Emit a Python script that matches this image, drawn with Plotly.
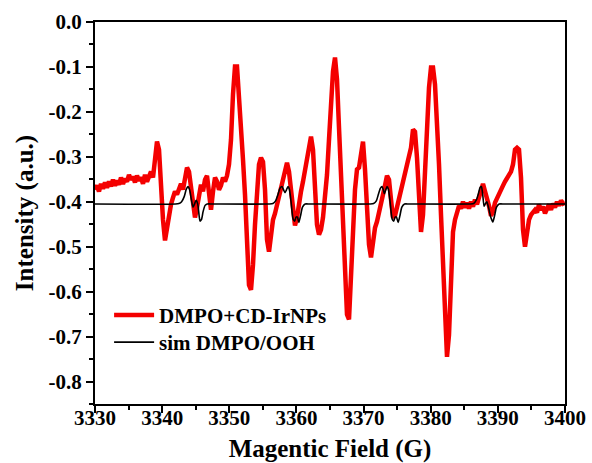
import numpy as np
import plotly.graph_objects as go

# Experimental EPR spectrum, sampled on a uniform field grid 3330-3400 G
n_points = 236
field = np.linspace(3330, 3400, n_points)
intensity_exp = [
    -0.373, -0.364, -0.377, -0.360, -0.371, -0.357, -0.369, -0.355, -0.366, -0.351,
    -0.364, -0.353, -0.362, -0.346, -0.360, -0.349, -0.355, -0.340, -0.351, -0.344,
    -0.357, -0.342, -0.353, -0.346, -0.360, -0.340, -0.355, -0.344, -0.333, -0.346,
    -0.306, -0.266, -0.284, -0.373, -0.440, -0.486, -0.458, -0.422, -0.406, -0.391,
    -0.377, -0.384, -0.369, -0.360, -0.373, -0.346, -0.324, -0.333, -0.373, -0.406,
    -0.435, -0.413, -0.386, -0.362, -0.377, -0.351, -0.342, -0.391, -0.418, -0.377,
    -0.346, -0.355, -0.373, -0.364, -0.346, -0.355, -0.342, -0.317, -0.262, -0.161,
    -0.099, -0.099, -0.161, -0.235, -0.306, -0.384, -0.473, -0.585, -0.596, -0.540,
    -0.451, -0.362, -0.317, -0.302, -0.311, -0.373, -0.484, -0.511, -0.473, -0.440,
    -0.426, -0.406, -0.384, -0.364, -0.351, -0.328, -0.313, -0.333, -0.373, -0.413,
    -0.453, -0.435, -0.402, -0.377, -0.355, -0.328, -0.306, -0.273, -0.255, -0.284,
    -0.362, -0.451, -0.473, -0.462, -0.435, -0.395, -0.340, -0.262, -0.184, -0.110,
    -0.079, -0.128, -0.235, -0.340, -0.440, -0.562, -0.651, -0.662, -0.562, -0.473,
    -0.373, -0.328, -0.324, -0.295, -0.266, -0.328, -0.418, -0.495, -0.524, -0.480,
    -0.458, -0.444, -0.426, -0.404, -0.386, -0.364, -0.342, -0.351, -0.395, -0.435,
    -0.431, -0.413, -0.391, -0.373, -0.355, -0.342, -0.324, -0.302, -0.280, -0.239,
    -0.244, -0.302, -0.395, -0.467, -0.429, -0.328, -0.228, -0.146, -0.101, -0.101,
    -0.139, -0.213, -0.317, -0.429, -0.551, -0.674, -0.745, -0.696, -0.551, -0.467,
    -0.440, -0.426, -0.409, -0.415, -0.400, -0.413, -0.402, -0.415, -0.400, -0.411,
    -0.395, -0.406, -0.391, -0.373, -0.360, -0.377, -0.391, -0.409, -0.431, -0.422,
    -0.402, -0.391, -0.384, -0.373, -0.364, -0.355, -0.346, -0.342, -0.333, -0.317,
    -0.284, -0.280, -0.284, -0.346, -0.462, -0.500, -0.467, -0.440, -0.429, -0.422,
    -0.418, -0.424, -0.406, -0.418, -0.411, -0.426, -0.413, -0.406, -0.418, -0.404,
    -0.413, -0.400, -0.409, -0.397, -0.404, -0.402,
]

# Simulated DMPO/OOH spectrum (flat baseline with four hyperfine groups)
field_sim = [
    3330.0, 3342.0,
    3342.5, 3342.9, 3343.3, 3343.6, 3343.85, 3344.1, 3344.35, 3344.6, 3344.85, 3345.05,
    3345.3, 3345.5, 3345.65, 3345.85, 3346.1, 3346.4, 3346.7,
    3347.5, 3355.9,
    3356.5, 3356.9, 3357.25, 3357.55, 3357.85, 3358.1, 3358.3, 3358.5, 3358.75, 3358.95,
    3359.2, 3359.5, 3359.75, 3359.95, 3360.15, 3360.35, 3360.6, 3360.9, 3361.3,
    3362.0, 3370.9,
    3371.5, 3371.9, 3372.2, 3372.5, 3372.75, 3372.95, 3373.1, 3373.3, 3373.5, 3373.7,
    3373.95, 3374.25, 3374.5, 3374.7, 3374.9, 3375.15, 3375.4, 3375.7, 3376.1,
    3376.8, 3385.8,
    3386.4, 3386.8, 3387.1, 3387.35, 3387.55, 3387.75, 3387.95, 3388.15, 3388.35,
    3388.6, 3388.9, 3389.25, 3389.5, 3389.8, 3390.2,
    3391.0, 3400.0,
]
intensity_sim = [
    -0.405, -0.405,
    -0.404, -0.400, -0.388, -0.372, -0.366, -0.374, -0.395, -0.412, -0.404, -0.397,
    -0.405, -0.430, -0.443, -0.440, -0.422, -0.408, -0.405,
    -0.405, -0.405,
    -0.404, -0.398, -0.384, -0.370, -0.366, -0.374, -0.380, -0.374, -0.366, -0.372,
    -0.400, -0.438, -0.443, -0.434, -0.434, -0.446, -0.432, -0.412, -0.405,
    -0.405, -0.405,
    -0.404, -0.398, -0.384, -0.370, -0.366, -0.374, -0.382, -0.374, -0.366, -0.372,
    -0.400, -0.438, -0.443, -0.434, -0.434, -0.446, -0.432, -0.412, -0.405,
    -0.405, -0.405,
    -0.404, -0.396, -0.382, -0.368, -0.366, -0.385, -0.410, -0.404, -0.400,
    -0.412, -0.432, -0.445, -0.432, -0.412, -0.405,
    -0.405, -0.405,
]

x_ticks = [3330, 3340, 3350, 3360, 3370, 3380, 3390, 3400]
y_ticks = [0.0, -0.1, -0.2, -0.3, -0.4, -0.5, -0.6, -0.7, -0.8]
y_labels = [f"{v:.1f}" for v in y_ticks]

FONT = "Liberation Serif"
legend_font = dict(family=FONT, size=21, color="black", weight="bold")

fig = go.Figure()
fig.add_trace(go.Scatter(
    x=field, y=intensity_exp, mode="lines", name="DMPO+CD-IrNPs",
    line=dict(color="#f40000", width=4.5), legend="legend", showlegend=True,
))
fig.add_trace(go.Scatter(
    x=field_sim, y=intensity_sim, mode="lines", name="sim DMPO/OOH",
    line=dict(color="black", width=1.6, shape="spline", smoothing=0.6),
    legend="legend2", showlegend=True,
))

axis_common = dict(
    showline=True, linecolor="black", linewidth=2, mirror=True,
    ticks="outside", ticklen=7, tickwidth=2, tickcolor="black",
    showgrid=False, zeroline=False, automargin=False,
    tickfont=dict(family=FONT, size=21, color="black", weight="bold"),
)

fig.update_xaxes(
    range=[3330, 3400], tickvals=x_ticks, ticklabelstandoff=-13,
    minor=dict(dtick=5, ticks="outside", ticklen=4, tickwidth=2, tickcolor="black"),
    title=dict(text="Magentic Field (G)", font=dict(family=FONT, size=25, color="black", weight="bold"), standoff=17),
    **axis_common,
)
fig.update_yaxes(
    range=[-0.85, 0.0], tickvals=y_ticks, ticktext=y_labels,
    minor=dict(dtick=0.05, ticks="outside", ticklen=4, tickwidth=2, tickcolor="black"),
    title=dict(text="Intensity (a.u.)", font=dict(family=FONT, size=25, color="black", weight="bold"), standoff=8),
    **axis_common,
)

legend_common = dict(
    xanchor="left", yanchor="middle", font=legend_font,
    bgcolor="rgba(0,0,0,0)", itemwidth=40, visible=True,
)
fig.update_layout(
    width=592, height=463, showlegend=True,
    margin=dict(l=95, r=27, t=22, b=59),
    paper_bgcolor="white", plot_bgcolor="white",
    legend=dict(x=0.03, y=0.232, **legend_common),
    legend2=dict(x=0.03, y=0.161, **legend_common),
)

fig.write_html("out.html")
